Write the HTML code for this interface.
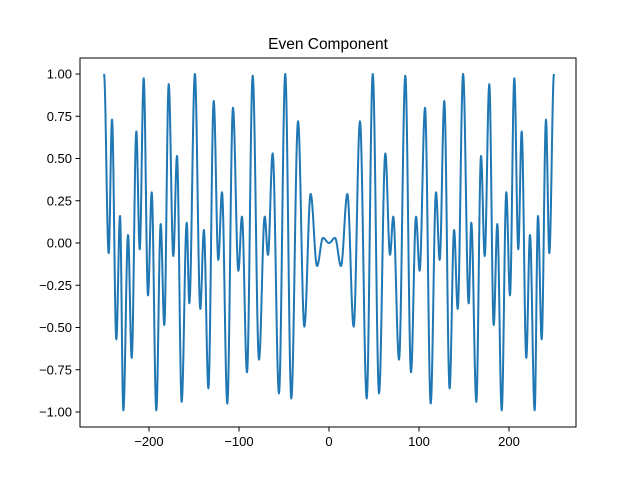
<!DOCTYPE html>
<html><head><meta charset="utf-8"><style>
body{margin:0;background:#fff}
svg{display:block;font-family:"Liberation Sans","DejaVu Sans",sans-serif}
</style></head><body>
<svg id="chart" width="640" height="480" viewBox="0 0 640 480">
<rect width="640" height="480" fill="#fff"/>
<text x="328" y="49" text-anchor="middle" font-size="15.5" fill="#000">Even Component</text>
<g id="plot"></g>
<rect x="80" y="58" width="496" height="369" fill="none" stroke="#000" stroke-width="1"/>
</svg>
<script>
// Extrema of the right half (x >= 0); the signal is even, so the left half is mirrored
const extremaX = [0, 6.7, 13.3, 20.4, 27.4, 34.4, 41.9, 48.6, 55.6, 62.6, 67.8, 71.4, 77.8, 84.8, 91.1, 96.7, 100.7, 106.7, 113, 118.9, 123, 128.1, 134, 139, 143, 149, 155.2, 158.1, 163.7, 168.9, 173, 178.1, 183, 187, 191.9, 197, 201.1, 205.9, 210.3, 214.1, 219.2, 223.3, 228.5, 232.2, 236.3, 241.1, 244.8, 250];
const extremaY = [0, 0.03, -0.136, 0.29, -0.495, 0.72, -0.92, 1.0, -0.89, 0.53, -0.07, 0.156, -0.69, 0.99, -0.765, 0.156, -0.164, 0.80, -0.95, 0.30, -0.10, 0.84, -0.86, 0.077, -0.39, 1.0, -0.357, 0.12, -0.94, 0.515, -0.077, 0.94, -0.485, 0.112, -0.99, 0.30, -0.31, 0.975, -0.037, 0.66, -0.68, 0.047, -0.99, 0.16, -0.57, 0.73, -0.06, 1.0];
const xTicks = [-200, -100, 0, 100, 200];
const yTicks = [-1.0, -0.75, -0.5, -0.25, 0.0, 0.25, 0.5, 0.75, 1.0];

const NS = "http://www.w3.org/2000/svg";
const plot = document.getElementById('plot');
const xs = v => 329 + 0.9 * v;
const ys = v => 243 - 169 * v;

// build full point list (mirror)
let pts = [];
for (let i = extremaX.length - 1; i >= 1; i--) pts.push([-extremaX[i], extremaY[i]]);
for (let i = 0; i < extremaX.length; i++) pts.push([extremaX[i], extremaY[i]]);

let d = "";
for (let i = 0; i < pts.length - 1; i++) {
  const [x0, y0] = pts[i], [x1, y1] = pts[i + 1];
  const n = 16;
  for (let k = (i === 0 ? 0 : 1); k <= n; k++) {
    const t = k / n;
    const x = x0 + (x1 - x0) * t;
    const y = y0 + (y1 - y0) * (1 - Math.cos(Math.PI * t)) / 2;
    d += (d ? "L" : "M") + xs(x).toFixed(2) + "," + ys(y).toFixed(2);
  }
}
const line = document.createElementNS(NS, 'path');
line.setAttribute('d', d);
line.setAttribute('fill', 'none');
line.setAttribute('stroke', '#1f77b4');
line.setAttribute('stroke-width', '2');
line.setAttribute('stroke-linejoin', 'round');


plot.appendChild(line);

xTicks.forEach(v => {
  const x = xs(v);
  const t = document.createElementNS(NS, 'line');
  t.setAttribute('x1', x); t.setAttribute('x2', x);
  t.setAttribute('y1', 427); t.setAttribute('y2', 431.5);
  t.setAttribute('stroke', '#000');
  
  
  plot.appendChild(t);
  const l = document.createElementNS(NS, 'text');
  l.setAttribute('x', x); l.setAttribute('y', 446);
  l.setAttribute('text-anchor', 'middle');
  l.setAttribute('font-size', '13');
  l.textContent = v < 0 ? '\u2212' + Math.abs(v) : String(v);
  
  
  plot.appendChild(l);
});
yTicks.forEach(v => {
  const y = ys(v);
  const t = document.createElementNS(NS, 'line');
  t.setAttribute('x1', 75.5); t.setAttribute('x2', 80);
  t.setAttribute('y1', y); t.setAttribute('y2', y);
  t.setAttribute('stroke', '#000');
  
  
  plot.appendChild(t);
  const l = document.createElementNS(NS, 'text');
  l.setAttribute('x', 72); l.setAttribute('y', y + 4.5);
  l.setAttribute('text-anchor', 'end');
  l.setAttribute('font-size', '13');
  const s = Math.abs(v).toFixed(2);
  l.textContent = v < 0 ? '\u2212' + s : s;
  
  
  plot.appendChild(l);
});
</script>
</body></html>
